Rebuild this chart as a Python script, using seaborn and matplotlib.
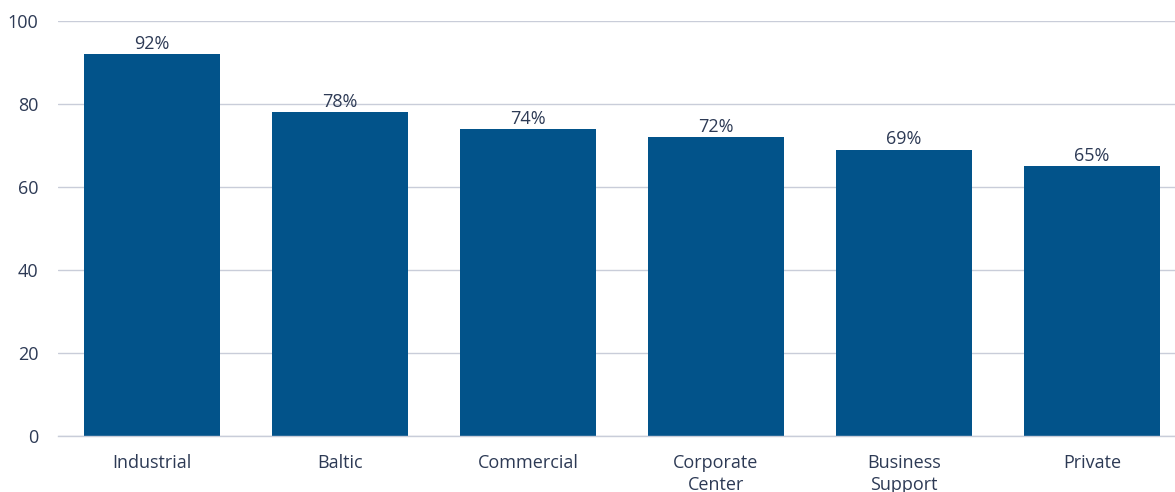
import matplotlib
matplotlib.use("Agg")
import matplotlib.pyplot as plt
import seaborn as sns
import pandas as pd
import numpy as np

categories = ["Industrial", "Baltic", "Commercial", "Corporate\nCenter", "Business\nSupport", "Private"]
values = [92, 78, 74, 72, 69, 65]
yticks = [0, 20, 40, 60, 80, 100]

BAR = "#02538a"
TEXT = "#2d3a55"
GRID = "#c9cdd9"
FS = 13

sns.set_theme(style="white")
plt.rcParams["font.family"] = ["Open Sans", "DejaVu Sans"]

df = pd.DataFrame({"segment": categories, "share": values})

fig = plt.figure(figsize=(11.75, 4.92), dpi=100)
ax = fig.add_axes([58 / 1175, 56 / 492, 1128 / 1175, 415 / 492])

sns.barplot(data=df, x="segment", y="share", color=BAR, saturation=1,
            width=0.723, linewidth=0, ax=ax)

ax.set_ylim(0, 100)
ax.set_xlim(-0.5, len(categories) - 0.5)
ax.set_yticks(yticks)
ax.yaxis.grid(True, color=GRID, linewidth=1)
ax.set_axisbelow(True)

for s in ["top", "right", "left"]:
    ax.spines[s].set_visible(False)
ax.spines["bottom"].set_color(GRID)
ax.spines["bottom"].set_linewidth(1)

ax.set_xlabel("")
ax.set_ylabel("")
ax.tick_params(axis="y", length=0, pad=14, labelsize=FS, labelcolor=TEXT)
ax.tick_params(axis="x", which="major", length=0, pad=13, labelsize=FS, labelcolor=TEXT)
for lbl in ax.get_xticklabels():
    lbl.set_linespacing(1.25)
ax.set_xticks(np.arange(-0.5, len(categories) + 0.5, 1), minor=True)
ax.tick_params(axis="x", which="minor", length=7.5, width=1, color=GRID)

for container in ax.containers:
    ax.bar_label(container, labels=[f"{v}%" for v in values], padding=1,
                 fontsize=FS, color=TEXT)

fig.savefig("out.png", dpi=100)
